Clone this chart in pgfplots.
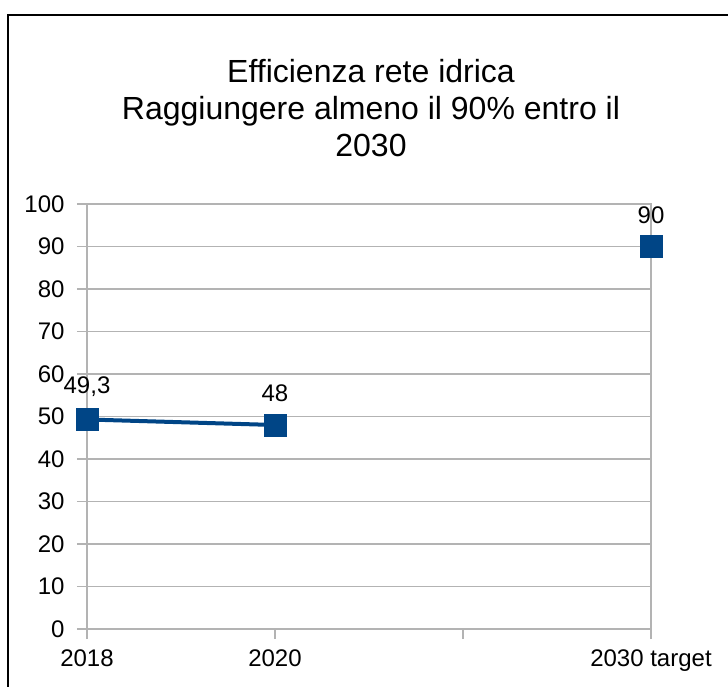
\documentclass[border=0pt]{standalone}
\usepackage{pgfplots}
\pgfplotsset{compat=1.18}
\usepackage{fontspec}
\setmainfont{Liberation Sans}
\definecolor{serie}{HTML}{004586}
\definecolor{griglia}{HTML}{B3B3B3}
\begin{document}
\begin{tikzpicture}[x=1pt,y=1pt]
\useasboundingbox (0,0) rectangle (728,686);
\draw[black,line width=2pt] (8,-5)--(8,671)--(733,671);
\node[align=center,font=\fontsize{32}{37}\selectfont] at (371,578)
  {Efficienza rete idrica\\Raggiungere almeno il 90\% entro il\\2030};
\begin{axis}[
  at={(87pt,57pt)}, anchor=south west,
  scale only axis, width=564pt, height=425pt,
  xmin=0, xmax=3, ymin=0, ymax=100,
  xtick={0,1,2,3}, xticklabels={2018,2020,,2030 target},
  ytick={0,10,...,100},
  ymajorgrids, major grid style={griglia,line width=1.5pt},
  axis line style={griglia,line width=1.5pt},
  tick align=outside, major tick length=10pt,
  tick style={griglia,line width=1.5pt},
  xtick pos=bottom, ytick pos=left,
  ticklabel style={font=\fontsize{24}{28}\selectfont},
  yticklabel style={xshift=-9pt},
  xticklabel style={yshift=-7pt},
  /pgf/number format/assume math mode=true,
  /pgf/number format/use comma,
  clip=false,
  nodes near coords,
  every node near coord/.style={anchor=south,inner sep=0pt,yshift=23pt,
     font=\fontsize{24}{28}\selectfont,text=black},
]
\addplot[serie, line width=4pt, mark=square*, mark size=11pt,
  mark options={solid,line width=0.5pt,fill=serie,draw=serie}]
  coordinates {(0,49.3) (1,48)};
\addplot[serie, only marks, mark=square*, mark size=11pt,
  mark options={solid,line width=0.5pt,fill=serie,draw=serie}]
  coordinates {(3,90)};
\end{axis}
\end{tikzpicture}
\end{document}
